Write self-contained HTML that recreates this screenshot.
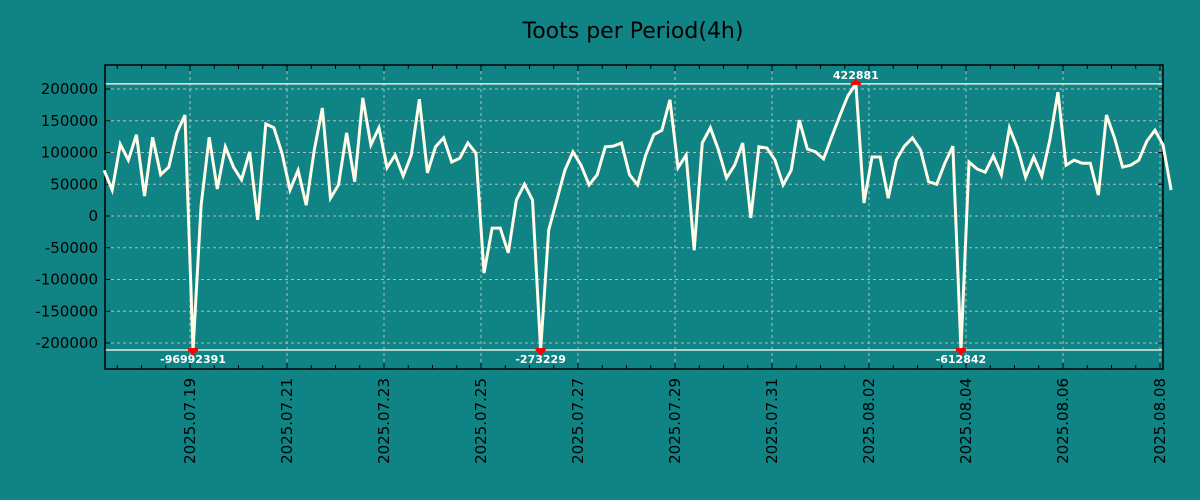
<!DOCTYPE html>
<html><head><meta charset="utf-8">
<style>
body{margin:0;background:#108385;}
svg{display:block;font-family:"DejaVu Sans","Liberation Sans",sans-serif;}
</style></head>
<body>
<svg id="chart" width="1200" height="500">
<rect width="1200" height="500" fill="#108385"/>
<text x="633" y="38" text-anchor="middle" font-size="22" fill="#000">Toots per Period(4h)</text>
<g id="grid"></g><g id="axes"></g><g id="series"></g><g id="annot"></g>
</svg>
<script>
const values = [72000,41000,113000,88000,128000,31500,124000,65000,77000,131000,159000,-96992391,17000,124000,42500,109000,77000,57000,101000,-6000,145000,139000,99000,41000,72000,17000,104000,170000,28000,49000,131000,54000,186000,112000,139000,76000,96000,63000,96000,184000,68000,109000,123000,85000,91000,115000,99000,-90000,-19000,-19000,-58000,25000,50000,25000,-273229,-22000,25000,72000,101000,80000,49000,65000,109000,110000,115000,65000,49000,96000,128000,135000,183000,76000,96000,-54000,115000,139000,104000,60000,80000,115000,-3000,109000,107000,88000,49000,72000,151000,105500,101000,90000,124000,157500,189000,422881,20500,93000,93000,28000,88000,110000,123000,104000,54000,50000,83000,110000,-612842,85000,74000,69000,94500,65000,139000,107000,61000,93000,63000,120000,195000,80000,88000,83000,83000,33000,159000,123000,77000,80000,88000,118000,135000,112000,41000];
const startHours = -42.5; // hours relative to 2025.07.19 00:00
const periodHours = 4;
const yTicks = [200000,150000,100000,50000,0,-50000,-100000,-150000,-200000];
const xTickLabels = ["2025.07.19","2025.07.21","2025.07.23","2025.07.25","2025.07.27","2025.07.29","2025.07.31","2025.08.02","2025.08.04","2025.08.06","2025.08.08"];
const clipHigh = 208000, clipLow = -211000;

const NS="http://www.w3.org/2000/svg";
const L=105,R=1163,T=65,B=369;
const X0=190, PXDAY=48.5;
const x = h => X0 + h/24*PXDAY;
const y = v => 216 - v/200000*127;
function mk(tag, attrs, parent){const e=document.createElementNS(NS,tag);for(const k in attrs)e.setAttribute(k,attrs[k]);parent.appendChild(e);return e;}
const grid=document.getElementById('grid'),axes=document.getElementById('axes'),series=document.getElementById('series'),annot=document.getElementById('annot');

yTicks.forEach(t=>{
  const g=mk('line',{x1:L,x2:R,y1:y(t),y2:y(t),stroke:'#b8b8b8','stroke-dasharray':'3,3','stroke-width':1},grid);
  
  
  const tl=mk('text',{x:98,y:y(t)+5,'text-anchor':'end','font-size':15,fill:'#000'},axes);
  tl.textContent=String(t);
  
  
  mk('line',{x1:L,x2:L+5,y1:y(t),y2:y(t),stroke:'#000'},axes);
  mk('line',{x1:R-5,x2:R,y1:y(t),y2:y(t),stroke:'#000'},axes);
});
xTickLabels.forEach((s,i)=>{
  const xx=x(i*48);
  const g=mk('line',{x1:xx,x2:xx,y1:T,y2:B,stroke:'#b8b8b8','stroke-dasharray':'3,3'},grid);
  
  
  const tl=mk('text',{x:0,y:0,'text-anchor':'end','font-size':15,fill:'#000',transform:`translate(${xx+5},378) rotate(-90)`},axes);
  tl.textContent=s;
  
  
});
for(let h=-36;x(h)<=R;h+=12){
  const xx=x(h); if(xx<L)continue;
  const big=(h%48===0);
  mk('line',{x1:xx,x2:xx,y1:B,y2:B-(big?6:4),stroke:'#000'},axes);
  mk('line',{x1:xx,x2:xx,y1:T,y2:T+(big?6:4),stroke:'#000'},axes);
}
[clipHigh,clipLow].forEach(c=>{
  const l=mk('line',{x1:L,x2:R,y1:y(c),y2:y(c),stroke:'#e8e8e0','stroke-width':1.5},grid);
  
  
});
const frame=mk('rect',{x:L,y:T,width:R-L,height:B-T,fill:'none',stroke:'#000','stroke-width':1.5},axes);



const pts=values.map((v,i)=>[x(startHours+i*periodHours), y(Math.max(clipLow,Math.min(clipHigh,v)))]);
const line=mk('polyline',{points:pts.map(p=>p.join(',')).join(' '),fill:'none',stroke:'#fffbe8','stroke-width':3,'stroke-linejoin':'miter'},series);



values.forEach((v,i)=>{
  if(v<=clipHigh && v>=clipLow) return;
  const [px,py]=pts[i];
  const hi=v>clipHigh;
  mk('rect',{x:px-5,y:py-2,width:10,height:3,fill:'#f00'},annot);
  const tri=mk('polygon',{points:hi?`${px-4},${py-1} ${px+4},${py-1} ${px},${py-5}`:`${px-4},${py+1} ${px+4},${py+1} ${px},${py+6}`,fill:'#f00'},annot);
  
  
  const t=mk('text',{x:px,y:hi?py-5:py+13,'text-anchor':'middle','font-size':11,'font-weight':'bold',fill:'#fff'},annot);
  t.textContent=String(v);
  
  
});
</script>
</body></html>
